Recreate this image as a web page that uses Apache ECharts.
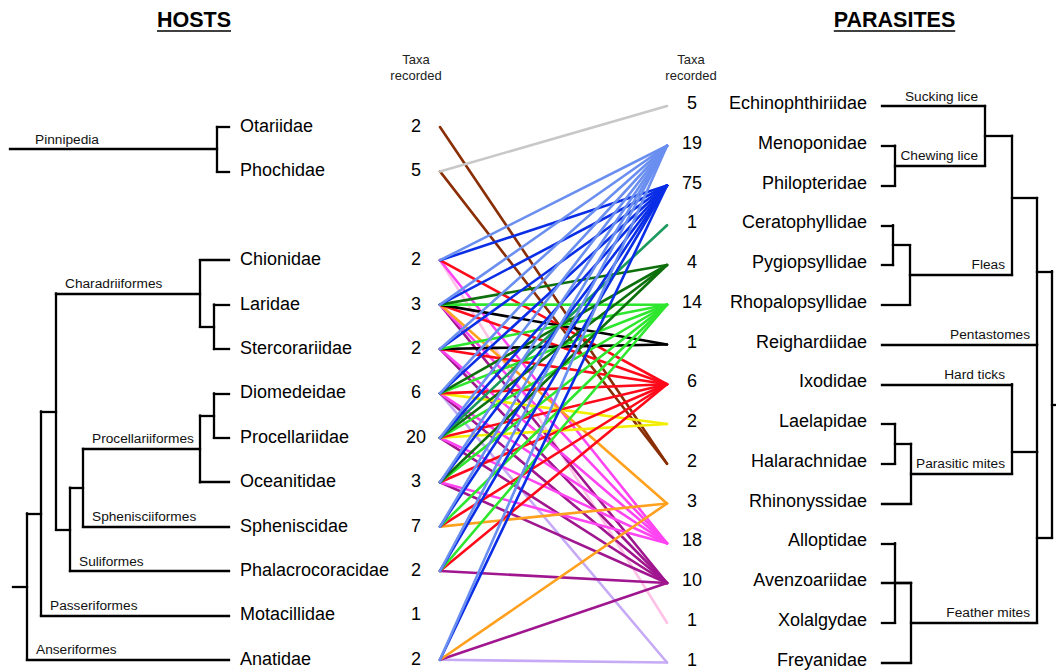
<!DOCTYPE html>
<html><head><meta charset="utf-8">
<script src="https://cdn.jsdelivr.net/npm/echarts@6/dist/echarts.min.js"></script>
<style>html,body{margin:0;padding:0;background:#fff}#c{width:1056px;height:672px}</style>
</head><body><div id="c"></div>
<script>
// ---------------- DATA ----------------
const hostNames = ['Otariidae','Phochidae','Chionidae','Laridae','Stercorariidae','Diomedeidae','Procellariidae','Oceanitidae','Spheniscidae','Phalacrocoracidae','Motacillidae','Anatidae'];
const hostCounts = [2,5,2,3,2,6,20,3,7,2,1,2];
const hostRows = [0,1,3,4,5,6,7,8,9,10,11,12];
const hostCladeLabels = ['Pinnipedia','Charadriiformes','Procellariiformes','Sphenisciiformes','Suliformes','Passeriformes','Anseriformes'];

const parasiteNames = ['Echinophthiriidae','Menoponidae','Philopteridae','Ceratophyllidae','Pygiopsyllidae','Rhopalopsyllidae','Reighardiidae','Ixodidae','Laelapidae','Halarachnidae','Rhinonyssidae','Alloptidae','Avenzoariidae','Xolalgydae','Freyanidae'];
const parasiteCounts = [5,19,75,1,4,14,1,6,2,2,3,18,10,1,1];
const parasiteCladeLabels = ['Sucking lice','Chewing lice','Fleas','Pentastomes','Hard ticks','Parasitic mites','Feather mites'];

// host index -> parasite indices recorded on it
const hostLinks = [
  [9],                          // Otariidae
  [0,9],                        // Phochidae
  [1,2,7,11,13],                // Chionidae
  [1,2,4,5,6,7,10,11,12],       // Laridae
  [1,2,5,6,7,11,12],            // Stercorariidae
  [1,2,4,5,7,8,11,12,14],       // Diomedeidae
  [1,2,3,4,5,7,8,11,12],        // Procellariidae
  [1,2,4,5,7,11,12],            // Oceanitidae
  [1,2,5,7,10],                 // Spheniscidae
  [1,2,5,7,12],                 // Phalacrocoracidae
  [],                           // Motacillidae
  [1,2,10,12,14]                // Anatidae
];

// ---------------- STYLE / LAYOUT ----------------
const parasiteColors = ['#c8c8c8','#6a8ff0','#0a2ee6','#1a9a5c','#0d700d','#2ee62e','#000000','#ff0a1a','#f2ee00','#8a2e06','#ffa01e','#ff45f2','#a0168f','#ffc2e6','#c6aaf6'];
const L = {hostX:440, parX:667, hostRow0:127, hostStep:44.4, parRow0:106, parStep:39.75,
  hostLeafX:229, hostNameX:240, hostCountX:416, parLeafX:882, parNameX:867, parCountX:692};
const FONT = '"Liberation Sans", Arial, Helvetica, sans-serif';
const hostY = i => L.hostRow0 + L.hostStep * hostRows[i];
const parY = j => L.parRow0 + L.parStep * j;

const hostTree = [
 {x:10, children:[{x:217, lab:0, labDx:25, children:[0,1]}]},
 {x:13, children:[{x:27, children:[
   {x:41, children:[
     {x:56, children:[
       {x:200, lab:1, children:[2, {x:214, children:[3,4]}]},
       {x:70, children:[
         {x:83, children:[
           {x:200, lab:2, children:[{x:214, children:[5,6]}, 7]},
           {leaf:8, lab:3}]},
         {leaf:9, lab:4}]}]},
     {leaf:10, lab:5}]},
   {leaf:11, lab:6}]}]}
];
const parTree = [{x:1070, children:[{x:1052, mergeChildVerticals:true, children:[
  {x:1037, children:[
    {x:1012, yFix:198, children:[
      {x:985, children:[{leaf:0, lab:0}, {x:895, lab:1, children:[1,2]}]},
      {x:910, lab:2, children:[{x:893, children:[3,4]}, 5]}]},
    {leaf:6, lab:3}]},
  {x:1037, children:[
    {x:1012, yFix:452, children:[{leaf:7, lab:4}, {x:911, lab:5, children:[{x:895, children:[8,9]}, 10]}]},
    {x:911, lab:6, children:[{x:895, children:[11,13]}, 12, 14]}]}]}]}];

function norm(n){ return typeof n === 'number' ? {leaf:n} : n; }
function layoutTree(node, yOf){
  node = norm(node);
  if (node.leaf !== undefined){ node.y = yOf(node.leaf); return node; }
  node.children = node.children.map(c => layoutTree(c, yOf));
  const ys = node.children.map(c => c.y);
  node.ymin = Math.min(...ys); node.ymax = Math.max(...ys);
  node.y = node.yFix !== undefined ? node.yFix : (node.ymin + node.ymax) / 2;
  return node;
}
const treeSegs = [], texts = [];
const LABF = '13.7px ' + FONT;
function walk(node, leafX, labels, side){
  if (node.leaf !== undefined) return;
  if (node.ymax > node.ymin) treeSegs.push([[node.x, node.ymin],[node.x, node.ymax]]);
  if (node.mergeChildVerticals){
    const inner = node.children.filter(c => c.leaf === undefined);
    for (let k = 1; k < inner.length; k++){
      if (inner[k].x === inner[k-1].x) treeSegs.push([[inner[k].x, inner[k-1].ymax],[inner[k].x, inner[k].ymin]]);
    }
  }
  node.children.forEach(c => {
    const endX = c.leaf !== undefined ? leafX : c.x;
    treeSegs.push([[node.x, c.y],[endX, c.y]]);
    if (c.lab !== undefined){
      if (side === 'left') texts.push({x: node.x + (c.labDx || 9), y: c.y - 10, t: labels[c.lab], f: LABF, a: 'left', c: '#111'});
      else texts.push({x: node.x - 7, y: c.y - 10, t: labels[c.lab], f: LABF, a: 'right', c: '#111'});
    }
    walk(c, leafX, labels, side);
  });
}
hostTree.forEach(t => walk(layoutTree(t, hostY), L.hostLeafX, hostCladeLabels, 'left'));
parTree.forEach(t => walk(layoutTree(t, parY), L.parLeafX, parasiteCladeLabels, 'right'));

// names / counts
const NAMEF = '18px ' + FONT;
hostNames.forEach((n,i) => {
  texts.push({x:L.hostNameX, y:hostY(i) - 1, t:n, f:NAMEF, a:'left', c:'#000'});
  texts.push({x:L.hostCountX, y:hostY(i) - 1, t:String(hostCounts[i]), f:NAMEF, a:'center', c:'#000'});
});
parasiteNames.forEach((n,j) => {
  texts.push({x:L.parNameX, y:parY(j) - 3, t:n, f:NAMEF, a:'right', c:'#000'});
  texts.push({x:L.parCountX, y:parY(j) - 3, t:String(parasiteCounts[j]), f:NAMEF, a:'center', c:'#000'});
});
['Taxa','recorded'].forEach((t,k) => {
  texts.push({x:416, y:59 + 16*k, t:t, f:'13px ' + FONT, a:'center', c:'#222'});
  texts.push({x:691, y:59 + 16*k, t:t, f:'13px ' + FONT, a:'center', c:'#222'});
});
const titles = [{x:194, y:20, t:'HOSTS'}, {x:894.5, y:20, t:'PARASITES'}];
const ctx = document.createElement('canvas').getContext('2d');
const underline = [];
titles.forEach(ti => {
  const f = 'bold 21.5px ' + FONT;
  texts.push({x:ti.x, y:ti.y, t:ti.t, f:f, a:'center', c:'#000'});
  ctx.font = f; const w = ctx.measureText(ti.t).width;
  underline.push([[ti.x - w/2, ti.y + 10.5],[ti.x + w/2, ti.y + 10.5]]);
});

// links
const linkData = [];
for (let p = parasiteNames.length - 1; p >= 0; p--){
  hostLinks.forEach((lst, h) => {
    if (lst.indexOf(p) >= 0) linkData.push({coords:[[L.hostX, hostY(h)],[L.parX, parY(p)]], lineStyle:{color: parasiteColors[p]}});
  });
}

const chart = echarts.init(document.getElementById('c'), null, {renderer:'svg'});
chart.setOption({
  animation:false,
  backgroundColor:'#fff',
  grid:{left:0, right:0, top:0, bottom:0, containLabel:false},
  xAxis:{type:'value', min:0, max:1056, show:false},
  yAxis:{type:'value', min:0, max:672, inverse:true, show:false},
  series:[
    {type:'lines', coordinateSystem:'cartesian2d', silent:true, z:2,
     lineStyle:{width:2.6, opacity:1, cap:'round'}, data:linkData},
    {type:'lines', coordinateSystem:'cartesian2d', silent:true, z:3,
     lineStyle:{width:2.3, color:'#000', opacity:1, cap:'square'},
     data: treeSegs.map(s => ({coords:s}))},
    {type:'lines', coordinateSystem:'cartesian2d', silent:true, z:3,
     lineStyle:{width:1.6, color:'#000', opacity:1},
     data: underline.map(s => ({coords:s}))},
    {type:'custom', coordinateSystem:'cartesian2d', silent:true, z:4,
     data: texts.map(t => [t.x, t.y]),
     renderItem: function(params, api){
       const t = texts[params.dataIndex];
       const pt = api.coord([t.x, t.y]);
       return {type:'text', x:pt[0], y:pt[1],
         style:{text:t.t, font:t.f, fill:t.c, align:t.a, verticalAlign:'middle', textAlign:t.a, textVerticalAlign:'middle'}};
     }}
  ]
});
</script></body></html>
